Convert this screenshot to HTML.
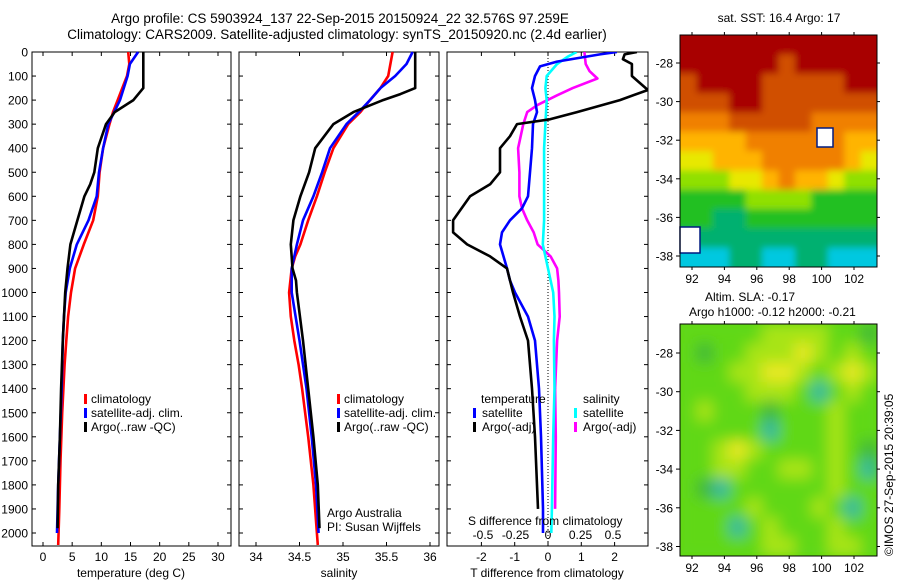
<!DOCTYPE html>
<html><head><meta charset="utf-8"><style>
body{margin:0;background:#fff}
svg{display:block;font-family:"Liberation Sans",sans-serif}
text{fill:#000}
</style></head><body>
<svg id="c" width="900" height="580" viewBox="0 0 900 580">
<text x="340" y="23" font-size="13.5" text-anchor="middle">Argo profile: CS 5903924_137 22-Sep-2015 20150924_22 32.576S 97.259E</text>
<text x="337" y="39" font-size="13.5" text-anchor="middle">Climatology: CARS2009. Satellite-adjusted climatology: synTS_20150920.nc (2.4d earlier)</text>
<text x="779" y="22" font-size="12" text-anchor="middle">sat. SST: 16.4 Argo: 17</text>
<text x="705" y="301" font-size="12">Altim. SLA: -0.17</text>
<text x="689" y="316" font-size="12">Argo h1000: -0.12 h2000: -0.21</text>
<text transform="translate(893,556) rotate(-90)" font-size="12">©IMOS 27-Sep-2015 20:39:05</text>
</svg>
<script>
// ---- data ----
const depthT = [0,50,100,150,200,250,300,400,500,600,700,800,900,1000,1100,1200,1300,1400,1500,1700,1900,2050];
const tempClim = [14.6,14.8,14.4,13.6,12.8,12.0,11.4,10.3,9.7,9.4,8.6,7.0,5.5,4.8,4.3,4.0,3.7,3.5,3.3,3.0,2.8,2.6];
const depthTs = [0,50,100,200,250,300,400,500,600,700,800,900,1000,1100,1200,1400,1600,1800,2000];
const tempSat = [16.3,14.9,14.5,13.2,12.2,11.2,10.3,9.6,9.2,7.8,5.8,4.6,3.9,3.6,3.4,3.2,2.9,2.6,2.4];
const depthTa = [0,150,200,250,300,400,500,550,600,700,800,900,1000,1100,1200,1400,1600,1800,1980];
const tempArgo = [17.2,17.2,15.5,12.3,10.8,9.4,8.8,8.1,7.1,5.9,4.7,4.2,3.8,3.6,3.4,3.1,2.9,2.6,2.5];
const depthS = [0,100,150,200,250,300,400,500,600,700,800,850,900,1000,1100,1200,1300,1400,1600,1800,2000,2050];
const salClim = [35.57,35.52,35.43,35.31,35.2,35.06,34.89,34.79,34.7,34.6,34.51,34.45,34.41,34.38,34.4,34.44,34.49,34.53,34.6,34.66,34.7,34.71];
const depthSs = [0,50,100,150,200,250,300,400,500,600,700,800,900,1000,1200,1400,1600,1800,2000];
const salSat = [35.8,35.73,35.6,35.43,35.31,35.18,35.04,34.85,34.76,34.66,34.54,34.47,34.41,34.41,34.5,34.58,34.64,34.69,34.72];
const depthSa = [0,150,175,200,250,300,400,500,600,700,800,900,950,1000,1200,1400,1600,1800,1980];
const salArgo = [35.83,35.83,35.66,35.46,35.12,34.89,34.68,34.61,34.51,34.43,34.4,34.42,34.46,34.47,34.54,34.6,34.66,34.71,34.73];
const depthDtA = [0,10,30,50,100,158,200,250,280,300,350,400,500,550,600,700,750,800,850,900,1000,1100,1200,1400,1600,1900];
const dtArgo = [2.67,2.3,2.25,2.52,2.52,3.0,2.16,0.87,0.06,-0.93,-1.14,-1.44,-1.44,-1.74,-2.34,-2.85,-2.85,-2.43,-1.74,-1.23,-1.05,-0.84,-0.6,-0.48,-0.39,-0.3];
const depthDtS = [0,10,40,60,100,150,200,250,300,400,500,600,650,700,750,800,900,950,1000,1100,1200,1400,1600,1900,2000];
const dtSat = [2.07,1.56,0.27,-0.24,-0.39,-0.48,-0.39,-0.33,-0.45,-0.48,-0.54,-0.6,-0.78,-1.14,-1.38,-1.44,-1.23,-1.14,-0.99,-0.6,-0.39,-0.27,-0.21,-0.15,-0.15];
const depthDsS = [0,20,50,100,150,200,300,400,600,700,800,850,900,1000,1100,1200,1400,1600,1900,2000];
const dsSat = [0.22,0.15,0.07,-0.01,-0.02,-0.01,-0.02,-0.03,-0.03,-0.03,-0.04,-0.02,0.0,0.04,0.05,0.045,0.05,0.04,0.03,0.025];
const depthDsA = [0,50,80,110,150,180,220,250,300,400,500,600,650,700,750,800,850,900,950,1000,1100,1200,1400,1600,1900];
const dsArgo = [0.28,0.29,0.32,0.38,0.19,0.07,-0.08,-0.16,-0.19,-0.23,-0.22,-0.22,-0.2,-0.16,-0.11,-0.08,0.02,0.07,0.08,0.085,0.09,0.07,0.055,0.06,0.055];
const depthTicks = [0,100,200,300,400,500,600,700,800,900,1000,1100,1200,1300,1400,1500,1600,1700,1800,1900,2000];
const tempTicks = [0,5,10,15,20,25,30];
const salTicks = [34,34.5,35,35.5,36];
const salTickLabels = ["34","34.5","35","35.5","36"];
const dtTicks = [-2,-1,0,1,2];
const dsTicks = [-0.5,-0.25,0,0.25,0.5];
const dsTickLabels = ["-0.5","-0.25","0","0.25","0.5"];
const lonTicks = [92,94,96,98,100,102];
const latTicks = [-28,-30,-32,-34,-36,-38];
const sstGrid = [
[10,10,10,10,10,10,10,10,10,10,10,10],
[10,10,10,10,10,10,9,10,10,10,10,10],
[9,10,10,10,10,9,9,9,9,9,10,10],
[9,9,9,10,10,9,9,9,9,9,9,9],
[8,8,8,9,9,9,9,9,8,8,8,8],
[7,7,7,7,8,8,8,8,8,8,7,7],
[6,6,7,7,7,8,8,8,8,8,7,6],
[5,5,5,6,6,7,8,7,7,6,5,5],
[4,4,4,4,5,5,5,5,4,4,4,4],
[4,4,3,3,4,4,4,4,4,4,4,4],
[3,3,3,3,3,3,3,3,3,3,3,3],
[2,2,2,3,3,2,2,3,3,2,2,2]];
const slaGrid = [
[2,2,2,2,2,3,3,3,3,2,2,1],
[2,1,2,2,3,3,3,4,3,2,3,2],
[2,2,2,3,3,4,4,3,2,3,4,3],
[2,2,2,2,3,3,3,2,0,2,3,2],
[2,3,2,2,2,1,2,2,2,3,2,2],
[2,2,2,2,2,0,2,2,2,3,2,2],
[2,2,3,4,3,2,2,2,2,3,2,1],
[2,2,3,3,2,2,3,3,2,3,2,0],
[2,1,0,2,2,2,2,2,2,3,2,2],
[2,2,2,2,3,2,2,2,3,2,0,2],
[2,2,2,0,2,3,2,2,2,3,2,2],
[2,2,2,2,2,3,3,2,2,3,3,2]];

const svg = document.getElementById('c');
const NS = 'http://www.w3.org/2000/svg';
function mk(tag, attrs){const e=document.createElementNS(NS,tag);for(const k in attrs)e.setAttribute(k,attrs[k]);svg.appendChild(e);return e;}
const yD = d => 52 + d*0.2405;
const xT = v => 43 + v*5.833;
const xS = v => 256 + (v-34)*87;
const xDT = v => 548 + v*33.3;
const xDS = v => 548 + v*130;
const lonX = v => 692 + (v-92)*16.2;
const latY1 = v => 63 + (-28 - v)*19.3;
const latY2 = v => 353 + (-28 - v)*19.35;

const panels = [[32,231,'temperature-panel'],[239,439,'salinity-panel'],[447,648,'difference-panel']];
for (const p of panels){
  const r = mk('rect',{x:p[0],y:52,width:p[1]-p[0],height:494,fill:'none',stroke:'#000','stroke-width':1});
  
  
  for (const d of depthTicks){
    const t1 = mk('line',{x1:p[0],x2:p[0]+4,y1:yD(d),y2:yD(d),stroke:'#000'});
    
    
    const t2 = mk('line',{x1:p[1]-4,x2:p[1],y1:yD(d),y2:yD(d),stroke:'#000'});
    
    
  }
}
for (const d of depthTicks){
  const t = mk('text',{x:28,y:yD(d)+4.5,'font-size':12,'text-anchor':'end'});
  t.textContent = d;
  
  
}
function xTicks(vals, fx, labels, ly){
  vals.forEach((v,i)=>{
    const x = fx(v);
    const a = mk('line',{x1:x,x2:x,y1:52,y2:56,stroke:'#000'});
    
    
    const b = mk('line',{x1:x,x2:x,y1:542,y2:546,stroke:'#000'});
    
    
    if (labels){
      const t = mk('text',{x:x,y:ly,'font-size':12,'text-anchor':'middle'});
      t.textContent = labels[i];
      
      
    }
  });
}
xTicks(tempTicks, xT, tempTicks.map(String), 561);
xTicks(salTicks, xS, salTickLabels, 561);
xTicks(dtTicks, xDT, dtTicks.map(String), 561);
dsTicks.forEach((v,i)=>{
  const t = mk('text',{x:xDS(v),y:539,'font-size':12,'text-anchor':'middle'});
  t.textContent = dsTickLabels[i];
  
  
});
const zl = mk('line',{x1:xDT(0),x2:xDT(0),y1:52,y2:546,stroke:'#000','stroke-dasharray':'1,2'});



function line(ds, vs, fx, color, name, clip){
  const pts = ds.map((d,i)=>fx(vs[i]).toFixed(1)+','+yD(d).toFixed(1)).join(' ');
  const attrs = {points:pts,fill:'none',stroke:color,'stroke-width':2.6,'stroke-linejoin':'round'};
  if (clip) attrs['clip-path']='url(#'+clip+')';
  const e = mk('polyline',attrs);
  
  
}
const defs = mk('defs',{});
defs.innerHTML = '<clipPath id="cp3"><rect x="447" y="52" width="201" height="494"/></clipPath><filter id="bl"><feGaussianBlur stdDeviation="7"/></filter><filter id="bl2"><feGaussianBlur stdDeviation="3.5"/></filter><clipPath id="cpm1"><rect x="680" y="35" width="197" height="232"/></clipPath><clipPath id="cpm2"><rect x="680" y="324" width="197" height="232"/></clipPath>';
line(depthT, tempClim, xT, '#ff0000', 'temp-climatology-line');
line(depthTs, tempSat, xT, '#0000ff', 'temp-satellite-line');
line(depthTa, tempArgo, xT, '#000000', 'temp-argo-line');
line(depthS, salClim, xS, '#ff0000', 'sal-climatology-line');
line(depthSs, salSat, xS, '#0000ff', 'sal-satellite-line');
line(depthSa, salArgo, xS, '#000000', 'sal-argo-line');
line(depthDsA, dsArgo, xDS, '#ff00ff', 'sal-diff-argo-line','cp3');
line(depthDsS, dsSat, xDS, '#00ffff', 'sal-diff-satellite-line','cp3');
line(depthDtS, dtSat, xDT, '#0000ff', 'temp-diff-satellite-line','cp3');
line(depthDtA, dtArgo, xDT, '#000000', 'temp-diff-argo-line','cp3');

function txt(x,y,s,name,size){const t=mk('text',{x:x,y:y,'font-size':size||12});t.textContent=s;return t;}
function mark(x,y,c){const r=mk('rect',{x:x,y:y-9,width:3,height:10,fill:c});}
[[ 'climatology','#f00'],['satellite-adj. clim.','#00f'],['Argo(..raw -QC)','#000']].forEach((e,i)=>{
  mark(84,403+i*14,e[1]); txt(91,403+i*14,e[0],'temp-legend-entry');
  mark(337,403+i*14,e[1]); txt(344,403+i*14,e[0],'sal-legend-entry');
});
txt(327,517,'Argo Australia','credit-argo-australia');
txt(327,531,'PI: Susan Wijffels','credit-pi');
txt(481,403,'temperature','diff-legend-temp-header');
mark(473,417,'#00f'); txt(482,417,'satellite','diff-legend-entry');
mark(473,431,'#000'); txt(482,431,'Argo(-adj)','diff-legend-entry');
txt(583,403,'salinity','diff-legend-sal-header');
mark(574,417,'#0ff'); txt(583,417,'satellite','diff-legend-entry');
mark(574,431,'#f0f'); txt(583,431,'Argo(-adj)','diff-legend-entry');
txt(468,525,'S difference from climatology','s-diff-axis-title');
const at = [[131,'temperature (deg C)','temp-axis-title'],[339,'salinity','sal-axis-title'],[547,'T difference from climatology','t-diff-axis-title']];
for (const a of at){const t=txt(a[0],577,a[1],a[2]);t.setAttribute('text-anchor','middle');}

// maps
const sstPal = ['#0033aa','#0099ff','#00c8e0','#00b070','#20c020','#90e000','#e8e800','#ffb400','#f08000','#d05000','#a80000'];
const slaPal = ['#30b8a0','#40b838','#60d818','#a8e418','#e8e820'];
const cw = 197/12, ch1 = 232/12;
const g1 = mk('g',{'clip-path':'url(#cpm1)'});
const bg1 = document.createElementNS(NS,'rect');
bg1.setAttribute('x',670);bg1.setAttribute('y',25);bg1.setAttribute('width',217);bg1.setAttribute('height',252);bg1.setAttribute('fill','#60c020');
g1.appendChild(bg1);
const g1b = document.createElementNS(NS,'g'); g1b.setAttribute('filter','url(#bl2)'); g1.appendChild(g1b);
sstGrid.forEach((row,r)=>row.forEach((v,c)=>{
  const e = document.createElementNS(NS,'rect');
  e.setAttribute('x',680+c*cw - (c===0?8:0));e.setAttribute('y',35+r*ch1 - (r===0?8:0));
  e.setAttribute('width',cw+0.5+(c===0||c===11?8:0));e.setAttribute('height',ch1+0.5+(r===0||r===11?8:0));
  e.setAttribute('fill',sstPal[v]);
  
  
  g1b.appendChild(e);
}));
const g2 = mk('g',{'clip-path':'url(#cpm2)'});
const bg = document.createElementNS(NS,'rect');
bg.setAttribute('x',670);bg.setAttribute('y',314);bg.setAttribute('width',217);bg.setAttribute('height',252);bg.setAttribute('fill','#60d818');
g2.appendChild(bg);
const g3 = document.createElementNS(NS,'g'); g3.setAttribute('filter','url(#bl)'); g2.appendChild(g3);
slaGrid.forEach((row,r)=>row.forEach((v,c)=>{
  const e = document.createElementNS(NS,'rect');
  e.setAttribute('x',680+c*cw);e.setAttribute('y',324+r*ch1);e.setAttribute('width',cw+0.5);e.setAttribute('height',ch1+0.5);e.setAttribute('fill',slaPal[v]);
  
  
  g3.appendChild(e);
}));
[[817,128,16,19],[680,227,20,26]].forEach(w=>{
  const e = mk('rect',{x:w[0],y:w[1],width:w[2],height:w[3],fill:'#fff',stroke:'#001a80','stroke-width':1.5});
  
  
});
const mapBoxes = [[35,267,latY1,283,'sst-map'],[324,556,latY2,572,'sla-map']];
for (const m of mapBoxes){
  const r = mk('rect',{x:680,y:m[0],width:197,height:m[1]-m[0],fill:'none',stroke:'#000'});
  
  
  for (const lo of lonTicks){
    const x = lonX(lo);
    const a = mk('line',{x1:x,x2:x,y1:m[1],y2:m[1]+3,stroke:'#000'});
    
    
    const b = mk('line',{x1:x,x2:x,y1:m[0]-3,y2:m[0],stroke:'#000'});
    
    
    const t = mk('text',{x:x,y:m[3],'font-size':12,'text-anchor':'middle'});
    t.textContent = lo;
    
    
  }
  for (const la of latTicks){
    const y = m[2](la);
    const a = mk('line',{x1:676,x2:680,y1:y,y2:y,stroke:'#000'});
    
    
    const b = mk('line',{x1:877,x2:880,y1:y,y2:y,stroke:'#000'});
    
    
    const t = mk('text',{x:673,y:y+4.5,'font-size':12,'text-anchor':'end'});
    t.textContent = la;
    
    
  }
}
</script>
</body></html>
